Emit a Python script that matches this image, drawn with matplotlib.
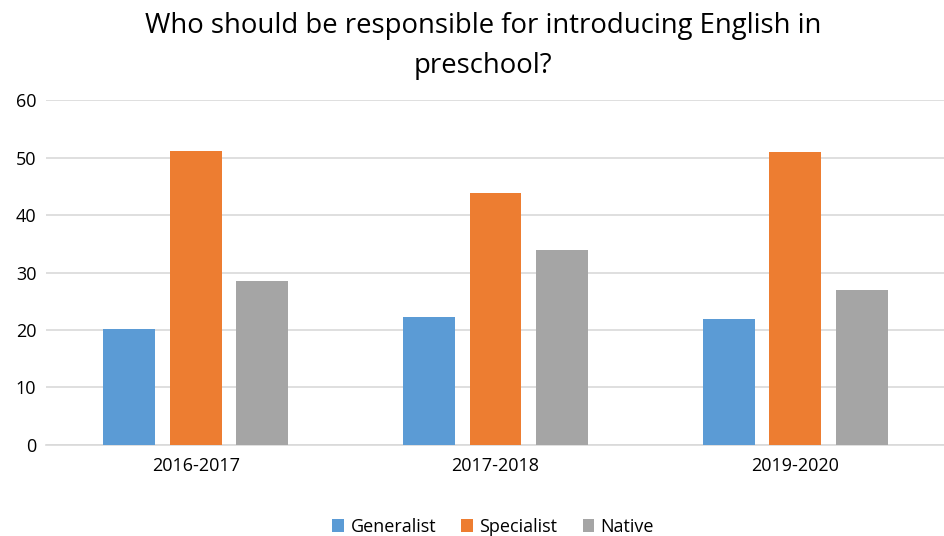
import numpy as np
import matplotlib.pyplot as plt

plt.rcParams['font.family'] = ['Open Sans', 'DejaVu Sans']

# data
years = ["2016-2017", "2017-2018", "2019-2020"]
generalist = [20.2, 22.3, 21.9]
specialist = [51.1, 43.8, 51.0]
native = [28.5, 33.9, 26.9]

series = [("Generalist", generalist, "#5b9bd5"),
          ("Specialist", specialist, "#ed7d31"),
          ("Native", native, "#a5a5a5")]

fig = plt.figure(figsize=(9.45, 5.36), dpi=100)
ax = fig.add_axes([0.0487, 0.1698, 0.9513, 0.6436])

x = np.arange(len(years))
width = 0.173
offset = 0.222
for i, (name, vals, color) in enumerate(series):
    ax.bar(x + (i - 1) * offset, vals, width, color=color, label=name, zorder=3)

ax.set_xlim(-0.5, len(years) - 0.5)
ax.set_ylim(0, 60)
ax.set_yticks(range(0, 61, 10))
ax.set_xticks(x)
ax.set_xticklabels(years)
ax.grid(axis="y", color="#d9d9d9", linewidth=1.2, zorder=0)
for s in ["top", "right", "left"]:
    ax.spines[s].set_visible(False)
ax.spines["bottom"].set_color("#d9d9d9")
ax.spines["bottom"].set_linewidth(1.2)
ax.tick_params(length=0, labelsize=13, colors="#000000")
ax.tick_params(axis="x", pad=9)
ax.tick_params(axis="y", pad=7)

fig.suptitle("Who should be responsible for introducing English in\npreschool?",
             x=0.511, y=0.978, fontsize=19.8, linespacing=1.6)

fig.legend(loc="lower center", bbox_to_anchor=(0.522, -0.03), ncol=3, frameon=False,
           fontsize=13, handlelength=0.65, handleheight=0.65, handletextpad=0.35,
           columnspacing=1.4)

fig.savefig("out.png", dpi=100)
